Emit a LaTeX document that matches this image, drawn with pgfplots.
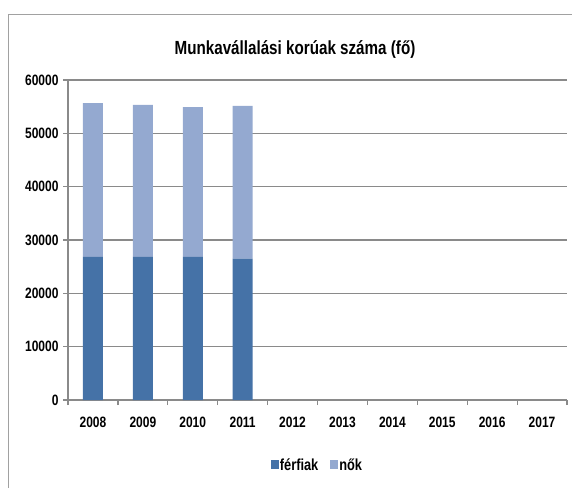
\documentclass[border=0pt]{standalone}
\usepackage{pgfplots}
\pgfplotsset{compat=1.18}
\usepackage{fontspec}
\setmainfont{Liberation Sans}[FakeStretch=0.8]
\definecolor{ferfi}{HTML}{4572A7}
\definecolor{nok}{HTML}{94A9D0}
\definecolor{gridc}{HTML}{8A8A8A}
\begin{document}
\begin{tikzpicture}
\useasboundingbox (0,0) rectangle (572pt,488pt);
\draw[color=gridc!80, line width=1pt] (8pt,0) -- (8pt,473pt) -- (572pt,473pt);
\node[font=\bfseries\fontsize{19}{22}\selectfont] at (295pt,438pt) {Munkavállalási korúak száma (fő)};
\begin{axis}[
  at={(68pt,88pt)}, anchor=south west,
  scale only axis, width=499pt, height=320pt,
  ybar stacked, bar width=20pt,
  xmin=-0.5, xmax=9.5, ymin=0, ymax=60000,
  xtick={-0.5,0.5,...,9.5}, xticklabels={},
  extra x ticks={0,1,2,3,4,5,6,7,8,9},
  extra x tick labels={2008,2009,2010,2011,2012,2013,2014,2015,2016,2017},
  extra x tick style={major tick length=0pt, grid=none},
  ytick={0,10000,20000,30000,40000,50000,60000},
  scaled y ticks=false,
  axis lines=left, axis line style={-, gridc, line width=1.2pt},
  ymajorgrids, grid style={gridc, line width=1.2pt},
  tick style={gridc, line width=1.2pt},
  major tick length=5pt, tick align=outside,
  font=\bfseries\fontsize{15}{17}\selectfont,
  /pgf/number format/assume math mode=true,
  yticklabel style={/pgf/number format/1000 sep={}, xshift=-1pt},
  xticklabel style={yshift=-13pt},
  legend style={at={(0.5,-0.203)}, anchor=center, draw=none, legend columns=2,
    font=\bfseries\fontsize{16}{18}\selectfont,
    /tikz/every odd column/.append style={column sep=-1pt}},
  legend image code/.code={\fill[#1] (0pt,-4.5pt) rectangle (8pt,4.5pt);},
]
\addplot[fill=ferfi, draw=none] coordinates {(0,26830) (1,26830) (2,26850) (3,26500)};
\addplot[fill=nok, draw=none] coordinates {(0,28830) (1,28510) (2,28060) (3,28650)};
\legend{férfiak\rule{10pt}{0pt}, nők}
\end{axis}
\end{tikzpicture}
\end{document}
